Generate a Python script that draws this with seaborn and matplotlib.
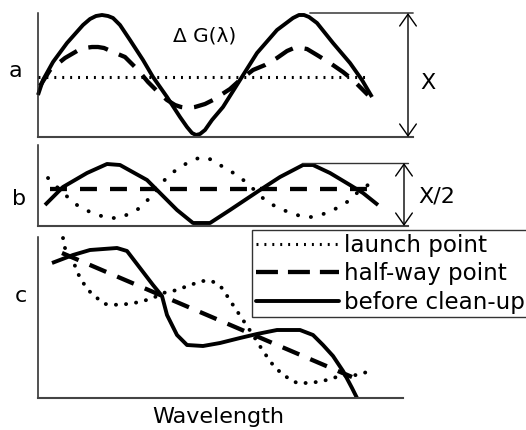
import matplotlib
matplotlib.use("Agg")
import matplotlib.pyplot as plt
from matplotlib.lines import Line2D
import pandas as pd
import seaborn as sns

# ---- panel a: ΔG(λ) profiles -------------------------------------------
a_solid_x = [0, 5, 15, 29, 45, 52, 58, 64, 70, 75, 82, 92, 105, 115, 129, 142, 149,
             154, 158, 162, 167, 174, 185, 202, 219, 239, 255, 261, 266, 271, 279,
             295, 312, 324, 334]
a_solid_y = [42, 57, 75, 94, 112, 118, 121, 122, 121, 119, 112, 97, 77, 60, 40, 20, 10,
             4, 2, 3, 7, 17, 30, 57, 84, 107, 119, 122, 122, 120, 114,
             94, 74, 57, 40]
a_dashed_x = [2, 12, 27, 39, 47, 54, 60, 66, 75, 87, 100, 110, 119, 129, 137, 143,
              150, 157, 167, 175, 192, 202, 215, 227, 239, 249, 256, 263, 269, 279,
              292, 305, 315, 322, 330]
a_dashed_y = [51, 67, 79, 86, 89, 90, 90, 89, 85, 80, 67, 55, 46, 37, 32, 30,
              29, 30, 33, 37, 48, 57, 67, 72, 79, 86, 89, 89, 88, 82,
              74, 65, 57, 50, 42]
a_dotted_x = [0, 165, 329]
a_dotted_y = [60, 60, 60]

# ---- panel b -----------------------------------------------------------
b_solid_x = [7, 25, 49, 69, 82, 109, 122, 139, 155, 172, 192, 222, 242, 265, 275,
             292, 312, 325, 340]
b_solid_y = [21, 39, 53, 62, 61, 46, 33, 16, 3, 3, 16, 36, 49, 61, 61,
             53, 41, 33, 21]
b_dotted_x = [10, 15, 25, 39, 52, 69, 82, 99, 115, 129, 142, 155, 164, 175, 185,
              199, 209, 229, 245, 265, 275, 292, 309, 319, 334]
b_dotted_y = [48, 43, 33, 21, 14, 8, 8, 16, 31, 49, 59, 66, 69, 66, 59,
              51, 43, 24, 16, 9, 9, 14, 24, 33, 44]
b_dashed_x = [12, 170, 329]
b_dashed_y = [37, 37, 37]

# ---- panel c -----------------------------------------------------------
c_solid_x = [14, 35, 52, 79, 89, 102, 115, 124, 129, 139, 149, 165, 182, 202, 219,
             239, 262, 275, 285, 295, 305, 314, 319]
c_solid_y = [135, 143, 148, 150, 147, 130, 113, 102, 83, 63, 53, 52, 55, 60, 64,
             68, 68, 63, 53, 42, 27, 10, 0]
c_dotted_x = [25, 27, 35, 42, 50, 59, 67, 82, 102, 115, 125, 139, 152, 165, 174,
              184, 195, 205, 215, 225, 235, 245, 259, 272, 285, 302, 319, 329]
c_dotted_y = [160, 150, 137, 120, 108, 100, 94, 93, 96, 100, 105, 108, 113, 117, 117,
              110, 93, 78, 63, 47, 33, 23, 15, 15, 17, 22, 23, 26]
c_dashed_x = [24, 314]
c_dashed_y = [145, 21]

stage_labels = ["launch point", "half-way point", "before clean-up"]

sns.set_theme(style="white")
plt.rcParams["font.family"] = ["DejaVu Sans"]
plt.rcParams["text.color"] = "black"
plt.rcParams["lines.scale_dashes"] = False

W, H = 526, 430
fig = plt.figure(figsize=(W / 100, H / 100), dpi=100)


def add_panel(left, top, right, bottom, ylim_top):
    ax = fig.add_axes([left / W, 1 - bottom / H, (right - left) / W, (bottom - top) / H])
    ax.set_xlim(0, right - left)
    ax.set_ylim(0, ylim_top)
    ax.set_xticks([])
    ax.set_yticks([])
    ax.patch.set_alpha(0)
    for s in ("top", "right"):
        ax.spines[s].set_visible(False)
    ax.spines["left"].set_color("#222222")
    ax.spines["left"].set_linewidth(1.1)
    ax.spines["bottom"].set_color("#444444")
    ax.spines["bottom"].set_linewidth(1.5)
    return ax


def draw(ax, xs, ys, **kw):
    df = pd.DataFrame({"wavelength": xs, "dG": ys})
    sns.lineplot(data=df, x="wavelength", y="dG", ax=ax, color="black",
                 sort=False, estimator=None, legend=False, clip_on=False,
                 solid_joinstyle="round", dash_joinstyle="round", **kw)
    ax.set_xlabel("")
    ax.set_ylabel("")


solid_kw = dict(lw=2.8, solid_capstyle="butt")

ax_a = add_panel(38, 13, 413, 137, 124)
draw(ax_a, a_dotted_x, a_dotted_y, lw=2.2, linestyle=(0, (1.4, 4.3)), dash_capstyle="butt")
draw(ax_a, a_dashed_x, a_dashed_y, lw=3.1, linestyle=(0, (14.4, 8.6)), dash_capstyle="butt")
draw(ax_a, a_solid_x, a_solid_y, **solid_kw)

ax_b = add_panel(38, 145, 408, 226, 81)
draw(ax_b, b_dotted_x, b_dotted_y, lw=2.8, linestyle=(0, (0.1, 9.4)), dash_capstyle="round")
draw(ax_b, b_dashed_x, b_dashed_y, lw=3.1, linestyle=(0, (12.2, 9.4)), dash_capstyle="butt")
draw(ax_b, b_solid_x, b_solid_y, **solid_kw)

ax_c = add_panel(38, 237, 403, 398, 161)
draw(ax_c, c_dotted_x, c_dotted_y, lw=2.8, linestyle=(0, (0.1, 7.2)), dash_capstyle="round")
draw(ax_c, c_dashed_x, c_dashed_y, lw=3.1, linestyle=(0, (13.0, 8.6)), dash_capstyle="butt")
draw(ax_c, c_solid_x, c_solid_y, **solid_kw)

# amplitude markers
arrow_props = dict(arrowstyle="<->,head_length=8.5,head_width=6", color="black",
                   lw=1.0, shrinkA=0, shrinkB=0, mutation_scale=1)
ax_a.plot([272, 375], [124, 124], color="#555555", lw=1.3, clip_on=False)
ax_a.annotate("", xy=(370, 124), xytext=(370, 0), arrowprops=arrow_props,
              annotation_clip=False)
ax_b.plot([264, 370], [63, 63], color="#333333", lw=1.0, clip_on=False)
ax_b.annotate("", xy=(366, 63), xytext=(366, 0), arrowprops=arrow_props,
              annotation_clip=False)

fs = 16
fig.text(428 / W, 1 - 89 / H, "X", fontsize=fs, ha="center", va="baseline")
fig.text(437 / W, 1 - 202 / H, "X/2", fontsize=fs, ha="center", va="baseline")
fig.text(205 / W, 1 - 42 / H, "Δ G(λ)", fontsize=14.5, ha="center", va="baseline")
fig.text(15 / W, 1 - 77 / H, "a", fontsize=fs, ha="center", va="baseline")
fig.text(19 / W, 1 - 205 / H, "b", fontsize=fs, ha="center", va="baseline")
fig.text(21 / W, 1 - 302 / H, "c", fontsize=fs, ha="center", va="baseline")
fig.text(218 / W, 1 - 423 / H, "Wavelength", fontsize=fs, ha="center", va="baseline")

handles = [
    Line2D([], [], color="black", lw=2.2, linestyle=(0, (1.4, 4.3)), dash_capstyle="butt"),
    Line2D([], [], color="black", lw=3.1, linestyle=(0, (15.8, 7.2)), dash_capstyle="butt"),
    Line2D([], [], color="black", lw=2.8),
]
leg = fig.legend(handles, stage_labels, loc="upper left",
                 bbox_to_anchor=(252 / W, 1 - 230 / H), borderaxespad=0,
                 fontsize=16.6, handlelength=3.6, handletextpad=0.25,
                 borderpad=0.16, labelspacing=0.24, frameon=True, fancybox=False)
leg.get_frame().set_edgecolor("black")
leg.get_frame().set_linewidth(1.0)

fig.savefig("out.png", dpi=100)
